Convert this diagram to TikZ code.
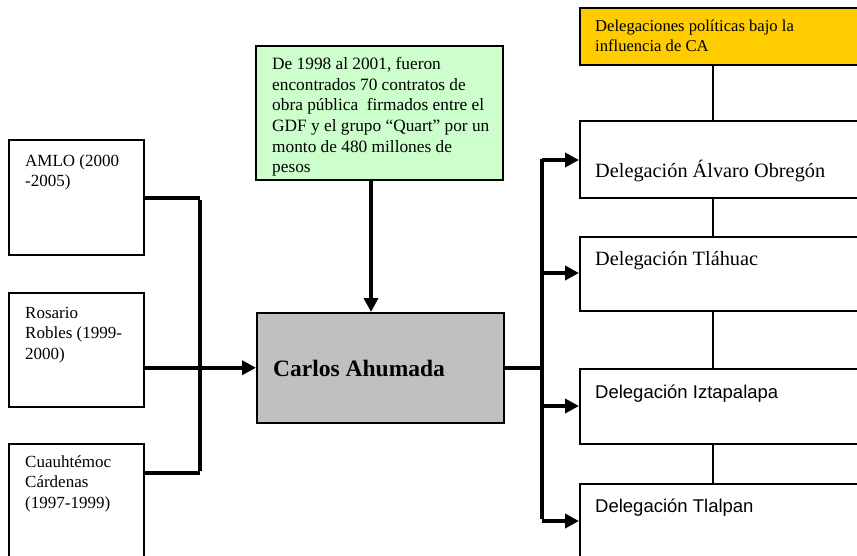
\documentclass[tikz,border=0pt]{standalone}
\usepackage{fontspec}
\setmainfont{Liberation Serif}
\newfontfamily\arialfont{Liberation Sans}
\usetikzlibrary{arrows.meta}
\definecolor{yel}{HTML}{FFCC00}
\definecolor{grn}{HTML}{CCFFCC}
\definecolor{gry}{HTML}{C0C0C0}
\tikzset{
  box/.style={draw=black, line width=1.5pt, rectangle, inner sep=0pt, anchor=north west},
  txt/.style={inner sep=0pt, anchor=north west, align=left},
  smallt/.style={font=\fontsize{17}{20.5}\selectfont},
  bigt/.style={font=\fontsize{20.3}{24}\selectfont},
  conn/.style={line width=3.5pt},
  trunk/.style={line width=4.5pt},
  thinc/.style={line width=2pt},
  arr/.style={line width=3.5pt, -{Triangle[length=14pt,width=14pt]}}
}
\begin{document}
\begin{tikzpicture}[x=1pt,y=-1pt]
\useasboundingbox (0,0) rectangle (857,555);
\clip (0,0) rectangle (857,555);
% left boxes
\node[box, minimum width=135pt, minimum height=115pt] (amlo) at (8,139) {};
\node[box, minimum width=135pt, minimum height=114pt] (ros) at (8,292) {};
\node[box, minimum width=135pt, minimum height=130pt] (cua) at (8,443) {};
\node[txt, smallt] (amlot) at (25,154) {AMLO (2000\\-2005)};
\node[txt, smallt] (rost) at (25,307) {Rosario\\Robles (1999-\\2000)};
\node[txt, smallt] (cuat) at (25,455) {Cuauhtémoc\\Cárdenas\\(1997-1999)};
% green box
\node[box, fill=grn, minimum width=247pt, minimum height=134pt] (grnb) at (255,45) {};
\node[txt, font=\fontsize{17.3}{20.7}\selectfont] (grnt) at (272,57) {De 1998 al 2001, fueron\\encontrados 70 contratos de\\obra pública\ \ firmados entre el\\GDF y el grupo “Quart” por un\\monto de 480 millones de\\pesos};
% central box
\node[box, fill=gry, minimum width=247pt, minimum height=110pt] (carlos) at (256,312) {};
\node[inner sep=0pt, anchor=base west, font=\fontsize{23.5}{27}\selectfont\bfseries] (carlost) at (273,376) {Carlos Ahumada};
% yellow box
\node[box, fill=yel, minimum width=300pt, minimum height=57pt] (yelb) at (579,7) {};
\node[txt, font=\fontsize{16.6}{20}\selectfont] (yelt) at (595,20) {Delegaciones políticas bajo la\\influencia de CA};
% right boxes
\node[box, minimum width=300pt, minimum height=77pt] (alv) at (579,120) {};
\node[box, minimum width=300pt, minimum height=74pt] (tla) at (579,236) {};
\node[box, minimum width=300pt, minimum height=75pt] (izt) at (579,368) {};
\node[box, minimum width=300pt, minimum height=90pt] (tlp) at (579,483) {};
\node[inner sep=0pt, anchor=base west, bigt] (alvt) at (595,177) {Delegación Álvaro Obregón};
\node[inner sep=0pt, anchor=base west, bigt] (tlat) at (595,265) {Delegación Tláhuac};
\node[inner sep=0pt, anchor=base west, font=\fontsize{18.5}{22}\selectfont\arialfont] (iztt) at (595,398) {Delegación Iztapalapa};
\node[inner sep=0pt, anchor=base west, font=\fontsize{18.5}{22}\selectfont\arialfont] (tlpt) at (595,512) {Delegación Tlalpan};
% coordinates
\coordinate (jA) at (200,198);
\coordinate (jC) at (200,473);
\coordinate (gx) at (371,179);
\coordinate (r0) at (542,159);
\coordinate (r1) at (542,160);
\coordinate (r2) at (542,273);
\coordinate (r3) at (542,406);
\coordinate (r4) at (542,521);
\coordinate (vx) at (713,0);
% left connectors
\draw[conn] (amlo.east |- jA) -- (jA);
\draw[conn] (cua.east |- jC) -- (jC);
\draw[trunk] ([yshift=-2pt]jA) -- ([yshift=2pt]jC);
\draw[arr] (ros.east |- carlos.west) -- (carlos.west);
% green to carlos
\draw[arr] (gx) -- (gx |- carlos.north);
% right connectors
\draw[trunk] (carlos.east) -- (carlos.east -| r1);
\draw[trunk] (r0) -- ([yshift=2pt]r4);
\draw[arr] (r1) -- (alv.west |- r1);
\draw[arr] (r2) -- (tla.west |- r2);
\draw[arr] (r3) -- (izt.west |- r3);
\draw[arr] (r4) -- (tlp.west |- r4);
% thin vertical links
\draw[thinc] (vx |- yelb.south) -- (vx |- alv.north);
\draw[thinc] (vx |- alv.south) -- (vx |- tla.north);
\draw[thinc] (vx |- tla.south) -- (vx |- izt.north);
\draw[thinc] (vx |- izt.south) -- (vx |- tlp.north);
\end{tikzpicture}
\end{document}
